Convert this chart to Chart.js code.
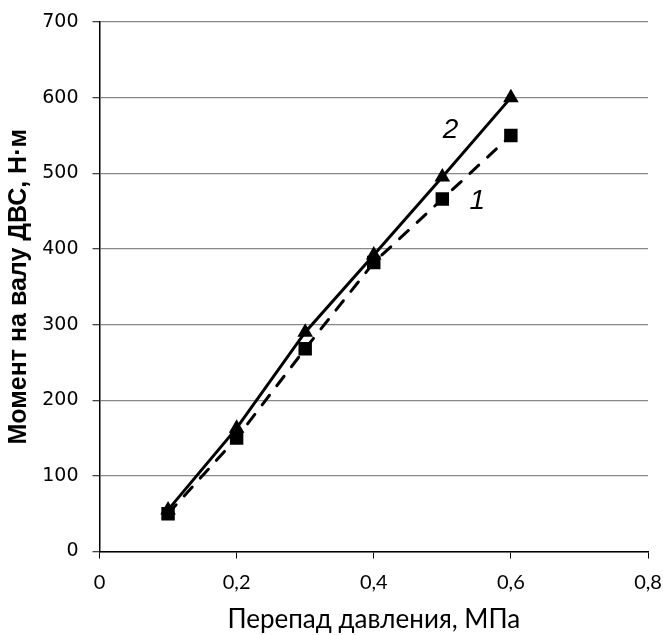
<!DOCTYPE html>
<html><head><meta charset="utf-8">
<script src="https://cdn.jsdelivr.net/npm/chart.js@4/dist/chart.umd.min.js"></script>
<style>html,body{margin:0;padding:0;background:#fff;overflow:hidden}#w{width:663px;height:635px}</style>
</head><body><div id="w"><canvas id="c"></canvas></div>
<script>
const pressure = [0.1, 0.2, 0.3, 0.4, 0.5, 0.6];
const torque1 = [50, 150, 268, 382, 466, 550];
const torque2 = [55, 163, 290, 392, 495, 600];
const seriesNames = ['1', '2'];
const xTitle = 'Перепад давления, МПа';
const yTitle = 'Момент на валу ДВС, Н·м';

const toPts = (ys) => pressure.map((x, i) => ({x, y: ys[i]}));

const curveLabels = {
  id: 'curveLabels',
  afterDatasetsDraw(chart) {
    const {ctx, scales: {x, y}} = chart;
    ctx.save();
    ctx.fillStyle = '#000';
    ctx.font = 'italic 28px "Liberation Sans", Arial, sans-serif';
    ctx.textAlign = 'center';
    ctx.textBaseline = 'middle';
    ctx.fillText(seriesNames[1], x.getPixelForValue(0.512), y.getPixelForValue(557));
    ctx.fillText(seriesNames[0], x.getPixelForValue(0.551), y.getPixelForValue(463));
    ctx.restore();
  }
};

new Chart(document.getElementById('c'), {
  type: 'scatter',
  data: {
    datasets: [
      {
        label: seriesNames[0], data: toPts(torque1), showLine: true,
        borderColor: '#000', backgroundColor: '#000', borderWidth: 3,
        borderDash: [12, 12], borderCapStyle: 'round',
        pointStyle: 'rect', pointRadius: 9.5, pointBorderWidth: 0
      },
      {
        label: seriesNames[1], data: toPts(torque2), showLine: true,
        borderColor: '#000', backgroundColor: '#000', borderWidth: 3,
        pointStyle: 'triangle', pointRadius: 9, pointBorderWidth: 0
      }
    ]
  },
  options: {
    responsive: true, maintainAspectRatio: false, animation: false,
    layout: {padding: {left: 0, right: 15, top: 22, bottom: 0}},
    plugins: {legend: {display: false}, tooltip: {enabled: false}},
    scales: {
      x: {
        type: 'linear', min: 0, max: 0.8,
        afterFit: (s) => { s.height = 83.5; s.paddingLeft = 0; s.paddingRight = 0; },
        ticks: {stepSize: 0.2, color: '#000', padding: 12,
          font: {family: 'Lato, "Open Sans", sans-serif', size: 20},
          callback: (v) => (Math.round(v * 10) / 10).toString().replace('.', ',')},
        grid: {drawOnChartArea: false, drawTicks: true, tickLength: 7, color: '#000'},
        border: {color: '#000', width: 1.5},
        title: {display: true, text: xTitle, color: '#000', padding: {top: 0, bottom: 0},
          font: {family: 'Lato, "Open Sans", sans-serif', size: 26}}
      },
      y: {
        min: 0, max: 700,
        afterFit: (s) => { s.width = 99.5; s.paddingTop = 0; s.paddingBottom = 0; },
        ticks: {stepSize: 100, color: '#000', padding: 14,
          font: {family: '"DejaVu Sans", Verdana, sans-serif', size: 19}},
        grid: {color: '#888', lineWidth: 1.3, tickLength: 7, tickColor: '#444'},
        border: {color: '#000', width: 1.5},
        title: {display: true, text: yTitle, color: '#000', padding: {top: 4, bottom: 0},
          font: {family: '"Liberation Sans", Arial, sans-serif', size: 25, weight: 'bold'}}
      }
    }
  },
  plugins: [curveLabels]
});
</script></body></html>
